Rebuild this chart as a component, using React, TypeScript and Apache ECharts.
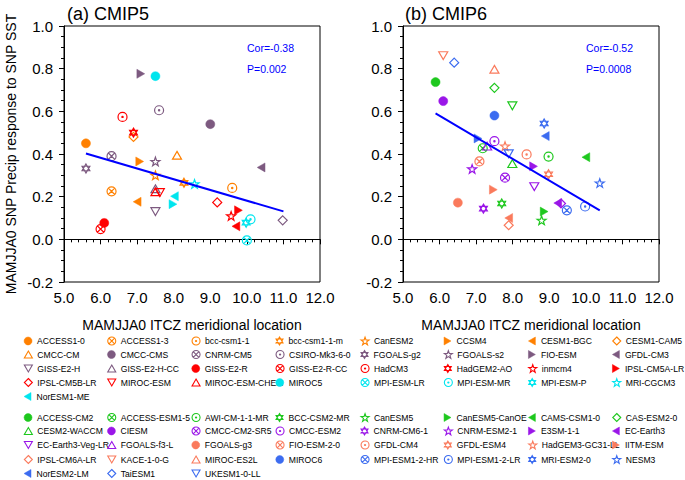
import React, { useEffect, useRef } from "react";
import * as echarts from "echarts";

const FONT = '"Liberation Sans", Arial, Helvetica, sans-serif';

// ---------------- DATA ----------------
const cmip5Models = [
  "ACCESS1-0", "ACCESS1-3", "bcc-csm1-1", "bcc-csm1-1-m", "CanESM2", "CCSM4", "CESM1-BGC", "CESM1-CAM5",
  "CMCC-CM", "CMCC-CMS", "CNRM-CM5", "CSIRO-Mk3-6-0", "FGOALS-g2", "FGOALS-s2", "FIO-ESM", "GFDL-CM3",
  "GISS-E2-H", "GISS-E2-H-CC", "GISS-E2-R", "GISS-E2-R-CC", "HadCM3", "HadGEM2-AO", "inmcm4", "IPSL-CM5A-LR",
  "IPSL-CM5B-LR", "MIROC-ESM", "MIROC-ESM-CHEM", "MIROC5", "MPI-ESM-LR", "MPI-ESM-MR", "MPI-ESM-P", "MRI-CGCM3",
  "NorESM1-ME",
];
const cmip5Itcz = [
  5.6, 6.3, 9.6, 8.28, 7.5, 7.07, 7.0, 6.9,
  8.09, 9.0, 6.3, 7.6, 5.6, 7.5, 7.1, 10.39,
  7.5, 7.5, 6.1, 6.0, 6.6, 6.9, 9.57, 9.77,
  9.19, 7.62, 7.5, 7.5, 10.0, 10.1, 9.98, 8.57,
  8.02,
];
const cmip5Precip = [
  0.45, 0.225, 0.241, 0.265, 0.30, 0.365, 0.176, 0.48,
  0.394, 0.54, 0.39, 0.605, 0.332, 0.365, 0.776, 0.337,
  0.13, 0.237, 0.077, 0.048, 0.574, 0.50, 0.11, 0.136,
  0.173, 0.219, 0.223, 0.765, -0.005, 0.094, 0.078, 0.26,
  0.202,
];
// markers drawn in panel (a) without a legend entry
const cmip5ExtraItcz = [7.98, 9.7, 10.98];
const cmip5ExtraPrecip = [0.165, 0.061, 0.089];

const cmip6Models = [
  "ACCESS-CM2", "ACCESS-ESM1-5", "AWI-CM-1-1-MR", "BCC-CSM2-MR", "CanESM5", "CanESM5-CanOE", "CAMS-CSM1-0", "CAS-ESM2-0",
  "CESM2-WACCM", "CIESM", "CMCC-CM2-SR5", "CMCC-ESM2", "CNRM-CM6-1", "CNRM-ESM2-1", "E3SM-1-1", "EC-Earth3",
  "EC-Earth3-Veg-LR", "FGOALS-f3-L", "FGOALS-g3", "FIO-ESM-2-0", "GFDL-CM4", "GFDL-ESM4", "HadGEM3-GC31-LL", "IITM-ESM",
  "IPSL-CM6A-LR", "KACE-1-0-G", "MIROC-ES2L", "MIROC6", "MPI-ESM1-2-HR", "MPI-ESM1-2-LR", "MRI-ESM2-0", "NESM3",
  "NorESM2-LM", "TaiESM1", "UKESM1-0-LL",
];
const cmip6Itcz = [
  5.89, 7.18, 8.98, 7.7, 8.79, 8.86, 10.0, 7.5,
  7.99, 6.1, 7.79, 7.5, 7.2, 6.89, 8.57, 9.23,
  8.59, 7.3, 6.5, 7.09, 8.38, 8.98, 7.79, 7.47,
  7.89, 6.1, 7.5, 7.5, 9.48, 9.98, 8.86, 10.38,
  8.89, 6.4, 7.89,
];
const cmip6Precip = [
  0.737, 0.427, 0.388, 0.168, 0.089, 0.13, 0.385, 0.71,
  0.355, 0.648, 0.289, 0.46, 0.144, 0.33, 0.342, 0.17,
  0.247, 0.437, 0.172, 0.365, 0.398, 0.305, 0.437, 0.233,
  0.066, 0.861, 0.797, 0.58, 0.136, 0.154, 0.543, 0.264,
  0.484, 0.828, 0.401,
];
const cmip6ExtraItcz = [7.99, 7.05, 9.32, 7.89];
const cmip6ExtraPrecip = [0.626, 0.473, 0.168, 0.1];

// regression lines (end points)
const fit5X = [5.6, 11.0];
const fit5Y = [0.402, 0.131];
const fit6X = [5.89, 10.38];
const fit6Y = [0.59, 0.136];

const statsText5 = ["Cor=-0.38", "P=0.002"];
const statsText6 = ["Cor=-0.52", "P=0.0008"];

// ---------------- STYLES ----------------
const SHAPES: Record<string, string> = {
  circle: "circle",
  cx: "path://M20,10A10,10,0,1,1,0,10A10,10,0,1,1,20,10ZM2.93,2.93L17.07,17.07M17.07,2.93L2.93,17.07",
  cd: "path://M20,10A10,10,0,1,1,0,10A10,10,0,1,1,20,10ZM11.4,10A1.4,1.4,0,1,1,8.6,10A1.4,1.4,0,1,1,11.4,10Z",
  hex: "path://M10,0L18.66,15L1.34,15ZM10,20L1.34,5L18.66,5Z",
  star: "path://M10,0L12.35,6.76L19.51,6.91L13.8,11.24L15.88,18.09L10,14L4.12,18.09L6.2,11.24L0.49,6.91L7.65,6.76Z",
  rtri: "path://M0,0L17.32,10L0,20Z",
  ltri: "path://M17.32,0L0,10L17.32,20Z",
  diamond: "path://M10,0L20,10L10,20L0,10Z",
  utri: "path://M10,0L20,17.32L0,17.32Z",
  dtri: "path://M0,0L20,0L10,17.32Z",
};
const FILLED = ["circle", "rtri", "ltri"];
const HOLLOW_FILL = "rgba(255,255,255,0)";

const cmip5Shape = [
  "circle", "cx", "cd", "hex", "star", "rtri", "ltri", "diamond", "utri",
  "circle", "cx", "cd", "hex", "star", "rtri", "ltri", "dtri", "utri",
  "circle", "cx", "cd", "hex", "star", "rtri", "diamond", "dtri", "utri",
  "circle", "cx", "cd", "hex", "star", "ltri",
];
const cmip5GroupColors = ["#ff8000", "#7d5a80", "#ff0000", "#00e5ee"];
const cmip5Group = (i: number) => (i < 9 ? 0 : i < 18 ? 1 : i < 27 ? 2 : 3);
const cmip5ExtraShape = ["rtri", "ltri", "diamond"];
const cmip5ExtraColor = ["#00e5ee", "#ff0000", "#7d5a80"];

const cmip6Shape = [
  "circle", "cx", "cd", "hex", "star", "rtri", "ltri", "diamond", "utri",
  "circle", "cx", "cd", "hex", "star", "rtri", "ltri", "dtri", "utri",
  "circle", "cx", "cd", "hex", "star", "rtri", "diamond", "dtri", "utri",
  "circle", "cx", "cd", "hex", "star", "ltri", "diamond", "dtri",
];
const cmip6GroupColors = ["#1ec81e", "#9a16e8", "#fa7a5c", "#3c6cf0"];
const cmip6Group = (i: number) => (i < 9 ? 0 : i < 18 ? 1 : i < 27 ? 2 : 3);
const cmip6ExtraShape = ["dtri", "rtri", "diamond", "ltri"];
const cmip6ExtraColor = ["#1ec81e", "#3c6cf0", "#9a16e8", "#fa7a5c"];

const legendColX = [28.3, 111.7, 196, 280, 365, 448.3, 532.7, 616.7];
const cmip5RowY = [341, 354.5, 368.5, 382.5, 396.5];
const cmip6RowY = [417.5, 431, 445, 459.5, 473.5];

function scatterSeries(name: string, x: number, y: number, shape: string, color: string, axis: number) {
  const filled = FILLED.indexOf(shape) >= 0;
  return {
    type: "scatter",
    name,
    xAxisIndex: axis,
    yAxisIndex: axis,
    data: [[x, y]],
    symbol: SHAPES[shape],
    symbolSize: 9,
    symbolKeepAspect: true,
    itemStyle: {
      color: filled ? color : HOLLOW_FILL,
      borderColor: color,
      borderWidth: filled ? 0.5 : 1.2,
      opacity: 1,
    },
    emphasis: { disabled: true },
  };
}

function buildLegends(names: string[], shapes: string[], rows: number[]) {
  return names.map((n, i) => {
    const filled = FILLED.indexOf(shapes[i]) >= 0;
    return {
      orient: "horizontal",
      left: legendColX[i % 8] - 4.5,
      top: rows[Math.floor(i / 8)] - 5,
      padding: 0,
      itemWidth: 8,
      itemHeight: 8,
      selectedMode: false,
      symbolKeepAspect: true,
      data: [{ name: n, itemStyle: { borderWidth: filled ? 0.5 : 1.1 } }],
      textStyle: { fontFamily: FONT, fontSize: 8.6, color: "#000", lineHeight: 10 },
    };
  });
}

export default function App() {
  const ref = useRef<HTMLDivElement>(null);
  useEffect(() => {
    if (!ref.current) return;
    const chart = echarts.init(ref.current, undefined, { renderer: "svg" });
    const series: any[] = [];
    cmip5Models.forEach((n, i) =>
      series.push(scatterSeries(n, cmip5Itcz[i], cmip5Precip[i], cmip5Shape[i], cmip5GroupColors[cmip5Group(i)], 0))
    );
    cmip5ExtraItcz.forEach((x, i) =>
      series.push(scatterSeries("CMIP5 unlisted " + (i + 1), x, cmip5ExtraPrecip[i], cmip5ExtraShape[i], cmip5ExtraColor[i], 0))
    );
    cmip6Models.forEach((n, i) =>
      series.push(scatterSeries(n, cmip6Itcz[i], cmip6Precip[i], cmip6Shape[i], cmip6GroupColors[cmip6Group(i)], 1))
    );
    cmip6ExtraItcz.forEach((x, i) =>
      series.push(scatterSeries("CMIP6 unlisted " + (i + 1), x, cmip6ExtraPrecip[i], cmip6ExtraShape[i], cmip6ExtraColor[i], 1))
    );
    series.push({
      type: "line", name: "fit5", xAxisIndex: 0, yAxisIndex: 0,
      data: fit5X.map((x, i) => [x, fit5Y[i]]), showSymbol: false, silent: true,
      lineStyle: { color: "#0000ff", width: 2 },
    });
    series.push({
      type: "line", name: "fit6", xAxisIndex: 1, yAxisIndex: 1,
      data: fit6X.map((x, i) => [x, fit6Y[i]]), showSymbol: false, silent: true,
      lineStyle: { color: "#0000ff", width: 2 },
    });

    const xAxisBase = (gridIndex: number) => ({
      type: "value", gridIndex, min: 5, max: 12, interval: 1,
      name: "MAMJJA0 ITCZ meridional location", nameLocation: "middle", nameGap: 36,
      nameTextStyle: { fontFamily: FONT, fontSize: 14, color: "#000" },
      axisLine: { show: true, lineStyle: { color: "#000", width: 1 } },
      axisTick: { show: true, length: 5, lineStyle: { color: "#000" } },
      minorTick: { show: true, splitNumber: 5, length: 3, lineStyle: { color: "#000" } },
      splitLine: { show: false },
      axisLabel: { fontFamily: FONT, fontSize: 15, color: "#000", margin: 8, formatter: (v: number) => v.toFixed(1) },
    });
    const yAxisBase = (gridIndex: number, withName: boolean) => ({
      type: "value", gridIndex, min: -0.2, max: 1.0, interval: 0.2,
      name: withName ? "MAMJJA0 SNP Precip response to SNP SST" : "",
      nameLocation: "middle", nameGap: 46, nameRotate: 90,
      nameTextStyle: { fontFamily: FONT, fontSize: 14, color: "#000" },
      axisLine: { show: true, lineStyle: { color: "#000", width: 1 } },
      axisTick: { show: true, length: 5, lineStyle: { color: "#000" } },
      minorTick: { show: true, splitNumber: 4, length: 3, lineStyle: { color: "#000" } },
      splitLine: { show: false },
      axisLabel: { fontFamily: FONT, fontSize: 15, color: "#000", margin: 11, formatter: (v: number) => v.toFixed(1) },
    });

    const txt = (text: string, x: number, y: number, size: number, color: string) => ({
      type: "text", x, y, silent: true,
      style: { text, fontFamily: FONT, fontSize: size, fill: color, textAlign: "left", textVerticalAlign: "middle" },
    });

    chart.setOption({
      animation: false,
      backgroundColor: "#fff",
      grid: [
        { left: 64, top: 26, width: 256, height: 256, show: true, borderColor: "#000", borderWidth: 1, backgroundColor: "transparent" },
        { left: 403, top: 26, width: 256, height: 256, show: true, borderColor: "#000", borderWidth: 1, backgroundColor: "transparent" },
      ],
      xAxis: [xAxisBase(0), xAxisBase(1)],
      yAxis: [yAxisBase(0, true), yAxisBase(1, false)],
      legend: [...buildLegends(cmip5Models, cmip5Shape, cmip5RowY), ...buildLegends(cmip6Models, cmip6Shape, cmip6RowY)],
      graphic: [
        txt("(a) CMIP5", 67, 14, 18, "#000"),
        txt("(b) CMIP6", 405, 14, 18, "#000"),
        txt(statsText5[0], 247, 48, 10.5, "#0000ff"),
        txt(statsText5[1], 247, 69, 10.5, "#0000ff"),
        txt(statsText6[0], 586, 48, 10.5, "#0000ff"),
        txt(statsText6[1], 586, 69, 10.5, "#0000ff"),
      ],
      series,
    });
    return () => chart.dispose();
  }, []);
  return <div ref={ref} style={{ position: "absolute", left: 0, top: 0, width: 685, height: 480 }} />;
}
